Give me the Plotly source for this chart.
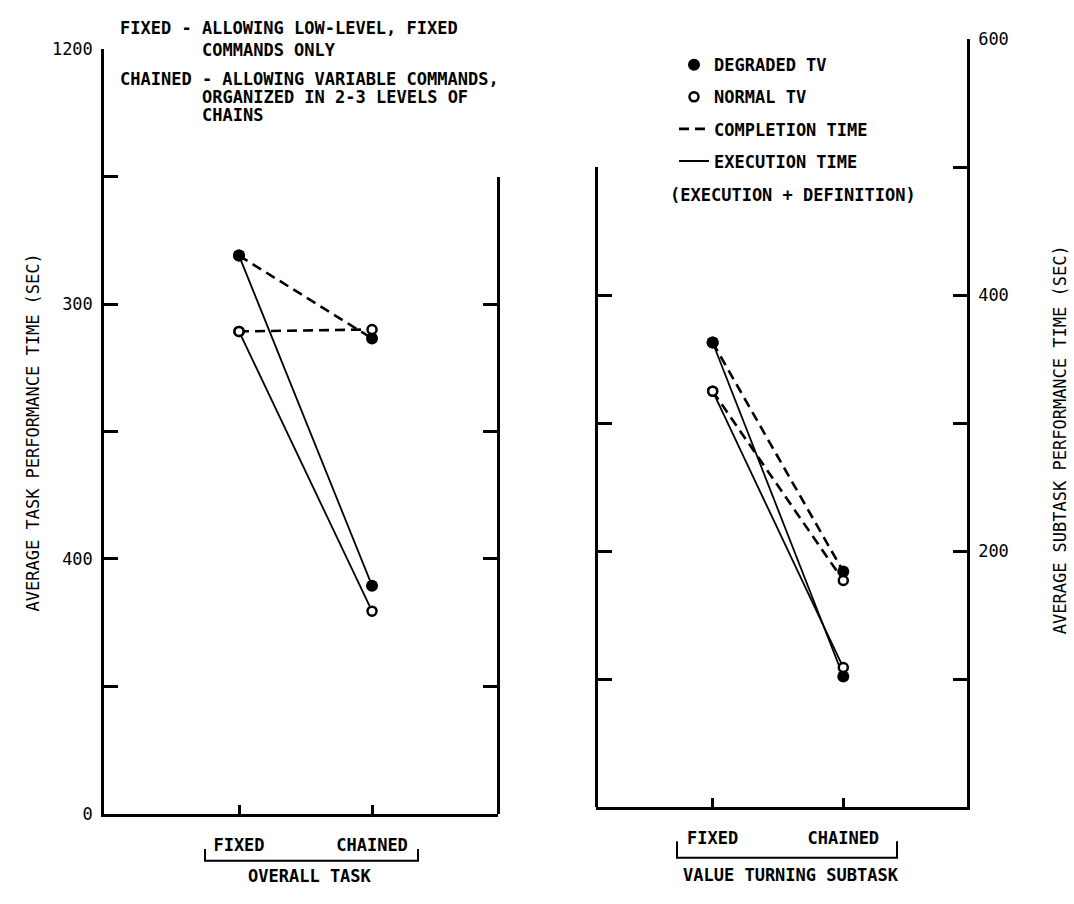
import plotly.graph_objects as go

# ---------------- data ----------------
conditions = ["FIXED", "CHAINED"]
cond_pos = [1, 2]

overall_completion_degraded = [876, 746]
overall_completion_normal = [757, 760]
overall_execution_degraded = [876, 358]
overall_execution_normal = [757, 318]

subtask_completion_degraded = [363, 184]
subtask_completion_normal = [325, 177]
subtask_execution_degraded = [363, 102]
subtask_execution_normal = [325, 109]

left_ticks = [0, 200, 400, 600, 800, 1000, 1200]
left_tick_labels = ["0", "", "400", "", "300", "", "1200"]
left_inner_ticks = [0, 200, 400, 600, 800, 1000]
right_ticks = [0, 100, 200, 300, 400, 500, 600]
right_tick_labels = ["", "", "200", "", "400", "", "600"]
right_inner_ticks = [0, 100, 200, 300, 400, 500]

# ---------------- helpers (layout only) ----------------
W, H = 1074, 904
def PX(x):
    return x / W
def PY(y):
    return 1 - y / H

FONT = "DejaVu Sans Mono"
BLACK = "black"
fs = 17
txt_font = dict(family=FONT, size=fs, color=BLACK, weight="bold")
num_font = dict(family=FONT, size=fs, color=BLACK)

filled = dict(symbol="circle", size=12, color=BLACK, line=dict(color=BLACK, width=0))
opened = dict(symbol="circle", size=9, color="white", line=dict(color=BLACK, width=2.5))
dash_line = dict(color=BLACK, width=2.6, dash="10px,6px")
solid_line = dict(color=BLACK, width=1.8)

fig = go.Figure()

def add(xa, ya, yvals, line, marker):
    fig.add_trace(go.Scatter(x=cond_pos, y=yvals, mode="lines+markers", line=line,
                             marker=marker, xaxis=xa, yaxis=ya, showlegend=False,
                             hoverinfo="skip"))

# left panel
add("x", "y", overall_execution_degraded, solid_line, filled)
add("x", "y", overall_completion_degraded, dash_line, filled)
add("x", "y", overall_execution_normal, solid_line, opened)
add("x", "y", overall_completion_normal, dash_line, opened)
# right panel
add("x2", "y2", subtask_execution_degraded, solid_line, filled)
add("x2", "y2", subtask_completion_degraded, dash_line, filled)
add("x2", "y2", subtask_execution_normal, solid_line, opened)
add("x2", "y2", subtask_completion_normal, dash_line, opened)

# carriers for inner frame axes
fig.add_trace(go.Scatter(x=[None], y=[None], xaxis="x", yaxis="y3", showlegend=False, hoverinfo="skip"))
fig.add_trace(go.Scatter(x=[None], y=[None], xaxis="x2", yaxis="y4", showlegend=False, hoverinfo="skip"))

# legend entries
fig.add_trace(go.Scatter(x=[None], y=[None], mode="markers", marker=filled, name="DEGRADED TV",
                         legendgroup="a", xaxis="x", yaxis="y"))
fig.add_trace(go.Scatter(x=[None], y=[None], mode="markers", marker=opened, name="NORMAL TV",
                         legendgroup="b", xaxis="x", yaxis="y"))
fig.add_trace(go.Scatter(x=[None], y=[None], mode="lines", line=dash_line, name="COMPLETION TIME",
                         legendgroup="c", xaxis="x", yaxis="y"))
fig.add_trace(go.Scatter(x=[None], y=[None], mode="lines", line=solid_line, name="EXECUTION TIME",
                         legendgroup="d", xaxis="x", yaxis="y"))

axis_common = dict(showgrid=False, zeroline=False, showline=True, linecolor=BLACK, linewidth=2.5,
                   ticks="inside", tickcolor=BLACK, tickwidth=2.5, fixedrange=True,
                   tickfont=num_font)

y_bottom_l, y_top_l = 822, 40
y_bottom_r, y_top_r = 815, 30

fig.update_layout(
    width=W, height=H, margin=dict(l=0, r=0, t=0, b=0),
    paper_bgcolor="white", plot_bgcolor="rgba(0,0,0,0)",
    showlegend=True,
    legend=dict(x=PX(674), y=PY(38), xanchor="left", yanchor="top", bgcolor="rgba(0,0,0,0)",
                borderwidth=0, tracegroupgap=7, itemwidth=30, font=txt_font),
    xaxis=dict(axis_common, domain=[PX(104), PX(498)], range=[-0.015, 2.947], anchor="y",
               tickvals=cond_pos, ticktext=conditions, ticklen=9, ticklabelstandoff=14,
               tickfont=txt_font),
    yaxis=dict(axis_common, domain=[PY(y_bottom_l), PY(y_top_l)], range=[0, 1200], anchor="x",
               tickvals=left_ticks, ticktext=left_tick_labels, ticklen=14, ticklabelstandoff=5),
    yaxis3=dict(axis_common, domain=[PY(y_bottom_l), PY(y_bottom_l - 1000 * (y_bottom_l - y_top_l) / 1200)],
                range=[0, 1000], anchor="free", position=PX(498), side="right",
                tickvals=left_inner_ticks, ticklen=14, showticklabels=False),
    xaxis2=dict(axis_common, domain=[PX(596), PX(967)], range=[0.107, 2.947], anchor="y2",
                tickvals=cond_pos, ticktext=conditions, ticklen=9, ticklabelstandoff=14,
                tickfont=txt_font),
    yaxis2=dict(axis_common, domain=[PY(y_bottom_r), PY(y_top_r)], range=[0, 600], anchor="x2",
                side="right", tickvals=right_ticks, ticktext=right_tick_labels, ticklen=14,
                ticklabelstandoff=5),
    yaxis4=dict(axis_common, domain=[PY(y_bottom_r), PY(y_bottom_r - 500 * (y_bottom_r - y_top_r) / 600)],
                range=[0, 500], anchor="free", position=PX(596), side="left",
                tickvals=right_inner_ticks, ticklen=14, showticklabels=False),
)

annots = [
    ("FIXED - ALLOWING LOW-LEVEL, FIXED", 118, 18, "left", 0, txt_font),
    ("COMMANDS ONLY", 200, 41, "left", 0, txt_font),
    ("CHAINED - ALLOWING VARIABLE COMMANDS,", 118, 71, "left", 0, txt_font),
    ("ORGANIZED IN 2-3 LEVELS OF", 200, 89, "left", 0, txt_font),
    ("CHAINS", 200, 107, "left", 0, txt_font),
    ("(EXECUTION + DEFINITION)", 668, 189, "left", 0, txt_font),
    ("OVERALL TASK", 310, 886, "center", 0, txt_font),
    ("VALUE TURNING SUBTASK", 791, 885, "center", 0, txt_font),
    ("AVERAGE TASK PERFORMANCE TIME (SEC)", 33, 432, "center", -90, num_font),
    ("AVERAGE SUBTASK PERFORMANCE TIME (SEC)", 1060, 440, "center", -90, num_font),
]
for text, x, y, xa, ang, f in annots:
    fig.add_annotation(text=text, x=PX(x), y=PY(y), xref="paper", yref="paper",
                       xanchor=xa, yanchor="middle", showarrow=False, textangle=ang,
                       font=f)

def bracket(x0, x1, ytop, ybot):
    return (f"M {PX(x0)},{PY(ytop)} L {PX(x0)},{PY(ybot)} "
            f"L {PX(x1)},{PY(ybot)} L {PX(x1)},{PY(ytop)}")

fig.add_shape(type="path", path=bracket(205, 418, 858, 870), xref="paper", yref="paper",
              line=dict(color=BLACK, width=2))
fig.add_shape(type="path", path=bracket(677, 897, 850, 867), xref="paper", yref="paper",
              line=dict(color=BLACK, width=2))

fig.write_html("out.html")
